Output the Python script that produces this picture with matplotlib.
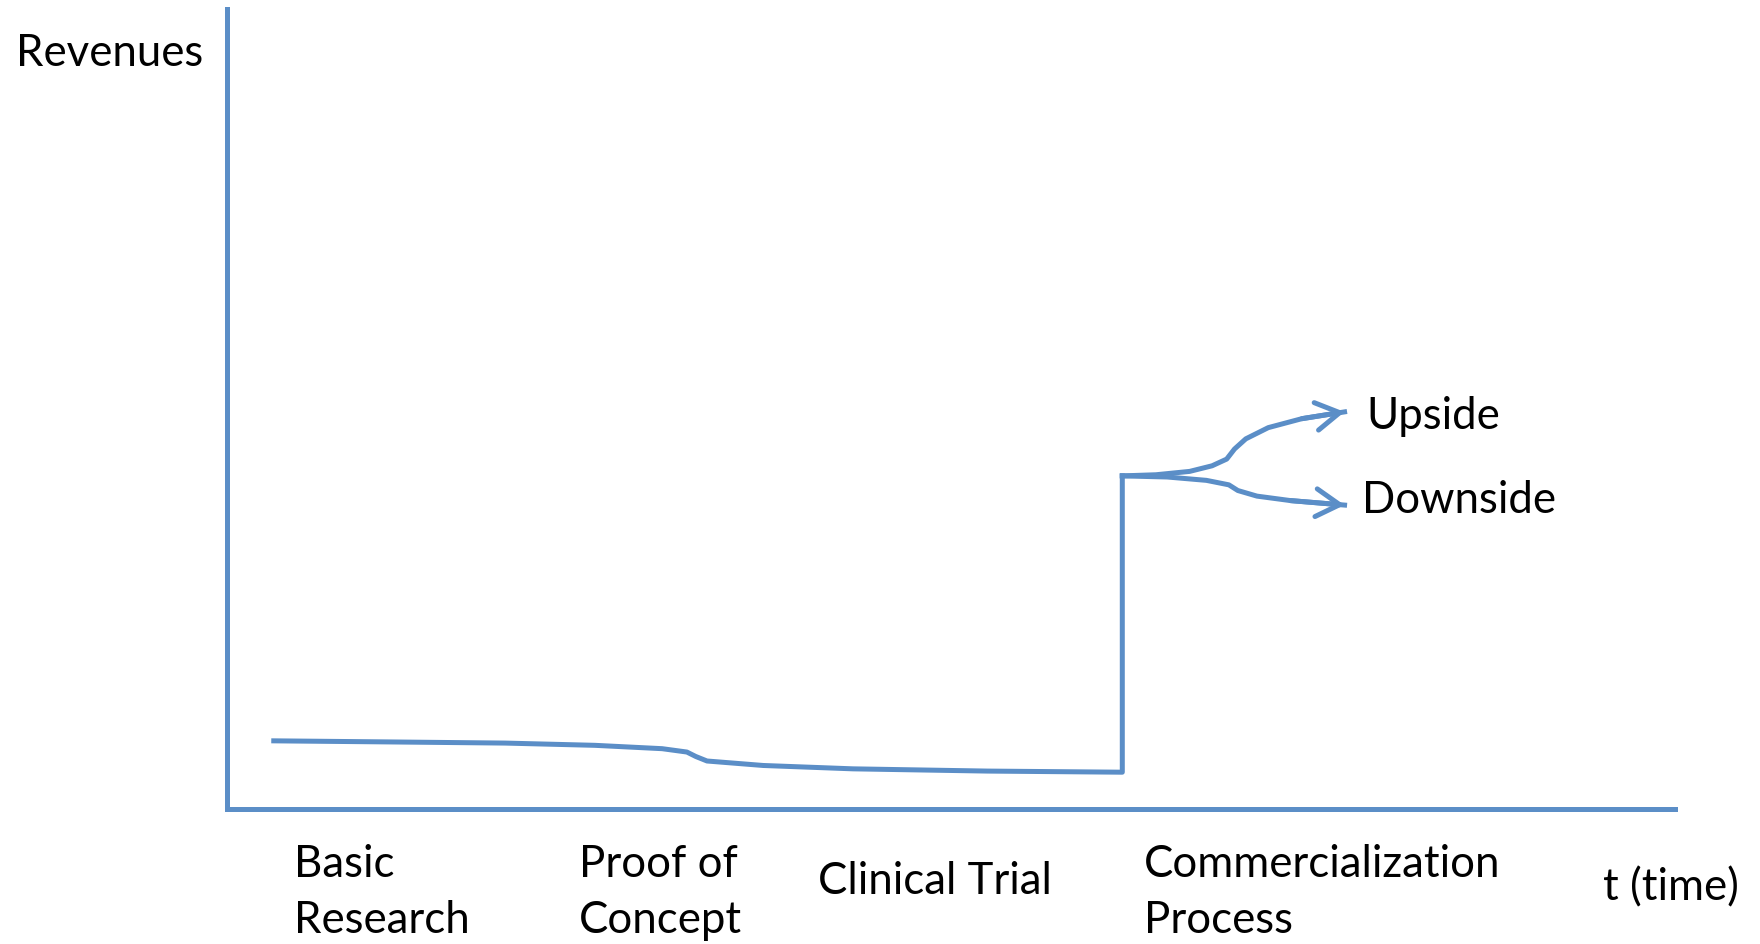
import matplotlib
matplotlib.use("Agg")
from matplotlib import pyplot as plt

BLUE = "#5b8ec7"

# revenue path over time (axis units 0..100)
base_t = [3.23, 11.45, 19.2, 25.4, 30.05, 31.76, 32.38, 33.15, 37.03, 43.23, 52.53, 61.83, 61.83]
base_rev = [8.52, 8.38, 8.24, 7.96, 7.54, 7.12, 6.56, 6.0, 5.44, 5.02, 4.74, 4.6, 41.64]

up_t = [61.83, 64.15, 66.48, 68.03, 69.04, 69.58, 70.36, 71.91, 74.23, 77.18]
up_rev = [41.64, 41.78, 42.2, 42.9, 43.74, 45.0, 46.27, 47.67, 48.79, 49.64]

down_t = [61.83, 64.93, 67.64, 69.19, 69.81, 71.13, 73.45, 77.18]
down_rev = [41.64, 41.5, 41.08, 40.52, 39.81, 39.11, 38.55, 37.99]

stages = ["Basic\nResearch", "Proof of\nConcept", "Clinical Trial", "Commercialization\nProcess"]
stage_x = [4.6, 24.3, 40.8, 63.3]

plt.rcParams["font.family"] = ["Lato", "DejaVu Sans"]

fig = plt.figure(figsize=(17.6, 9.44), dpi=100)
ax = fig.add_axes([227 / 1760, 135 / 944, 1448 / 1760, 800 / 944])
ax.set_xlim(0, 100)
ax.set_ylim(0, 100)
for s in ["top", "right"]:
    ax.spines[s].set_visible(False)
for s in ["left", "bottom"]:
    ax.spines[s].set_color(BLUE)
    ax.spines[s].set_linewidth(3.6)
ax.set_xticks([])
ax.set_yticks([])

lw = 3.6
ax.plot(base_t, base_rev, color=BLUE, lw=lw, solid_joinstyle="round")
ax.plot(up_t, up_rev, color=BLUE, lw=lw, solid_joinstyle="round")
ax.plot(down_t, down_rev, color=BLUE, lw=lw, solid_joinstyle="round")

# arrow heads
for tt, rr in [(up_t, up_rev), (down_t, down_rev)]:
    ax.annotate("", xy=(tt[-1], rr[-1]), xytext=(tt[-2], rr[-2]),
                arrowprops=dict(arrowstyle="->,head_length=0.85,head_width=0.5",
                                color=BLUE, lw=lw, mutation_scale=20,
                                shrinkA=0, shrinkB=0))

fs = 31.5
ax.text(-14.6, 94.4, "Revenues", fontsize=fs, va="center", ha="left", clip_on=False)
ax.text(78.7, 49.1, "Upside", fontsize=fs, va="center", ha="left")
ax.text(78.4, 38.6, "Downside", fontsize=fs, va="center", ha="left")

for lab, x in zip(stages, stage_x):
    ax.text(x, -10.4 if "\n" in lab else -9.1, lab, fontsize=fs, va="center",
            ha="left", linespacing=1.45, clip_on=False)
ax.text(95.0, -9.8, "t (time)", fontsize=fs, va="center", ha="left", clip_on=False)

fig.savefig("out.png", dpi=100)
